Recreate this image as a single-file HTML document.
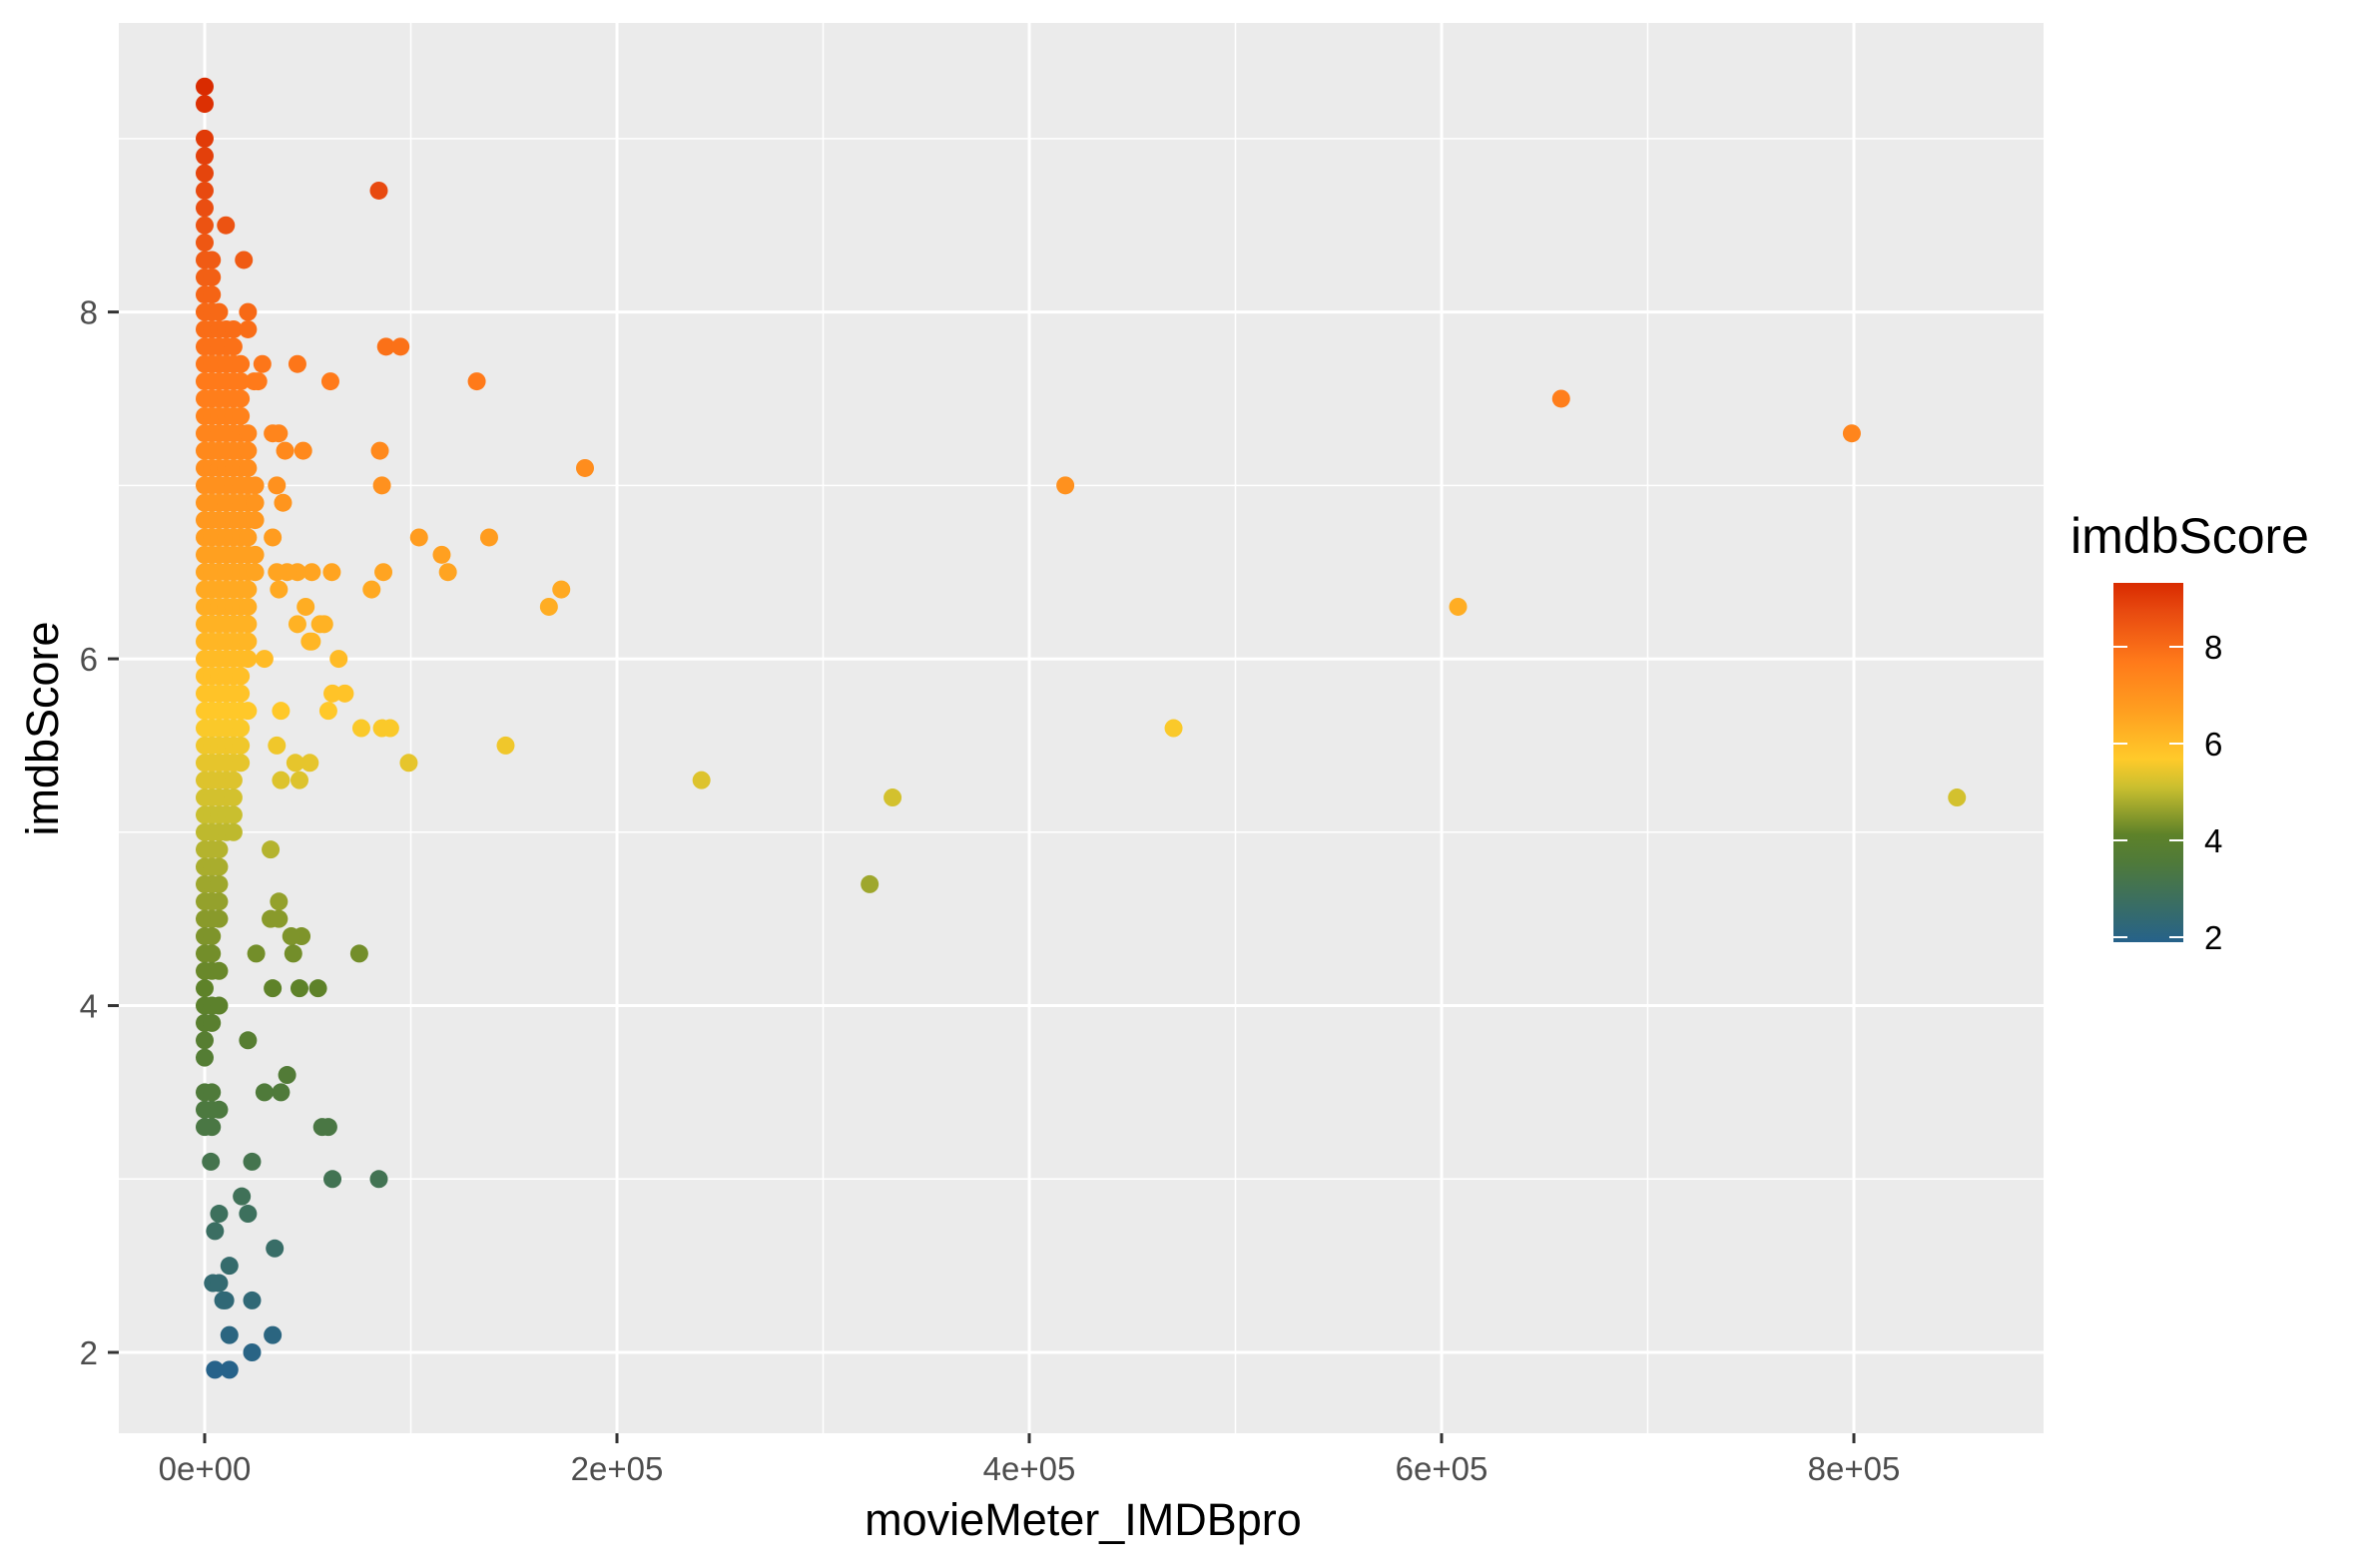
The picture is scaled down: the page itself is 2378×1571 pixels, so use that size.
<!DOCTYPE html>
<html><head><meta charset="utf-8"><style>
body{margin:0;background:#fff;}
svg{display:block;font-family:"Liberation Sans",sans-serif;}
</style></head><body>
<svg id="chart" width="2378" height="1571" viewBox="0 0 2378 1571">
<rect x="0" y="0" width="2378" height="1571" fill="#fff"/>
<rect x="119" y="23" width="1928" height="1413" fill="#ebebeb"/>
<g id="grid"></g>
<g id="points"></g>
<g id="axes"></g>
<text x="1085" y="1538" font-size="45" text-anchor="middle" fill="#000">movieMeter_IMDBpro</text>
<text transform="translate(58,730) rotate(-90)" font-size="45" text-anchor="middle" fill="#000">imdbScore</text>
<g>
<text x="2074" y="554" font-size="50" fill="#000">imdbScore</text>
<defs><linearGradient id="lg" x1="0" y1="1" x2="0" y2="0">
<stop offset="0" stop-color="#26628a"/><stop offset="0.22" stop-color="#4f7a3a"/><stop offset="0.3" stop-color="#5e8229"/><stop offset="0.43" stop-color="#c9bf2f"/><stop offset="0.51" stop-color="#ffca2a"/><stop offset="0.64" stop-color="#ffa020"/><stop offset="0.78" stop-color="#ff7a1a"/><stop offset="0.92" stop-color="#e84a10"/><stop offset="1" stop-color="#d92b00"/></linearGradient></defs>
<rect x="2117" y="584" width="70" height="360" fill="url(#lg)"/>
<g id="legendTicks"></g>
</g>
</svg>
<script>
const xTicks=[0,200000,400000,600000,800000];
const xTickLabels=["0e+00","2e+05","4e+05","6e+05","8e+05"];
const yTicks=[2,4,6,8];
const yTickLabels=["2","4","6","8"];
const legendTicks=[2,4,6,8];
// dense column: score levels and max x extent of the band at each level
const bandScores=[9.3,9.2,9.0,8.9,8.8,8.7,8.6,8.5,8.4,8.3,8.2,8.1,8.0,7.9,7.8,7.7,7.6,7.5,7.4,7.3,7.2,7.1,7.0,6.9,6.8,6.7,6.6,6.5,6.4,6.3,6.2,6.1,6.0,5.9,5.8,5.7,5.6,5.5,5.4,5.3,5.2,5.1,5.0,4.9,4.8,4.7,4.6,4.5,4.4,4.3,4.2,4.1,4.0,3.9,3.8,3.7,3.5,3.4,3.3];
const bandMax=[0,0,1000,1000,1000,1500,1500,2000,3000,6000,5000,5000,9000,14000,16000,20000,20000,18000,20000,22000,24000,24000,25000,26000,26000,24000,26000,26000,22000,24000,24000,22000,22000,20000,20000,22000,20000,18000,18000,16000,16000,14000,14000,10000,10000,10000,9000,8000,6000,6000,9000,3000,8000,4000,3000,3000,5000,8000,6000];
const scatterX=[84500,10300,19000,21000,21000,88000,95000,45000,28000,24000,61000,132000,26000,658000,799000,33000,36000,47800,85000,39000,184500,86000,417500,35000,38000,104000,138000,33000,115000,118000,86700,61700,52000,45000,40000,35000,173000,81000,36000,167000,608000,49000,58000,45000,51000,52000,56000,65000,29000,62000,68000,60000,37000,76000,86000,90000,470000,146000,35000,99000,44000,51000,241000,46000,37000,333700,850000,32000,322600,36000,32000,36000,47000,42000,75000,43000,25000,55000,46000,33000,40000,57000,60000,37000,29000,62000,84500,23000,34000,33000,23000,5000,7000,18000,21000,12000,4000,7000,9000,10000,23000,12000,5000,12000,3000,21000];
const scatterY=[8.7,8.5,8.3,8.0,7.9,7.8,7.8,7.7,7.7,7.6,7.6,7.6,7.6,7.5,7.3,7.3,7.3,7.2,7.2,7.2,7.1,7.0,7.0,7.0,6.9,6.7,6.7,6.7,6.6,6.5,6.5,6.5,6.5,6.5,6.5,6.5,6.4,6.4,6.4,6.3,6.3,6.3,6.2,6.2,6.1,6.1,6.2,6.0,6.0,5.8,5.8,5.7,5.7,5.6,5.6,5.6,5.6,5.5,5.5,5.4,5.4,5.4,5.3,5.3,5.3,5.2,5.2,4.9,4.7,4.6,4.5,4.5,4.4,4.4,4.3,4.3,4.3,4.1,4.1,4.1,3.6,3.3,3.3,3.5,3.5,3.0,3.0,3.1,2.6,2.1,2.0,2.7,2.8,2.9,2.8,2.5,2.4,2.4,2.3,2.3,2.3,2.1,1.9,1.9,3.1,3.8];

const NS="http://www.w3.org/2000/svg";
const X0=205, XS=(1857-205)/800000;
const Y8=312.6, YS=(1355-312.6)/6;
function sx(v){return X0+v*XS;}
function sy(v){return Y8+(8-v)*YS;}
function ly(v){return 648+(8-v)*48.5;}
const stops=[[1.9,[38,98,138]],[3.5,[79,122,58]],[4.1,[94,130,41]],[5.1,[201,191,47]],[5.65,[255,202,42]],[6.6,[255,160,32]],[7.6,[255,122,26]],[8.7,[232,74,16]],[9.3,[217,43,0]]];
function col(s){
  for(let i=0;i<stops.length-1;i++){
    const a=stops[i],b=stops[i+1];
    if(s<=b[0]){const t=Math.max(0,(s-a[0])/(b[0]-a[0]));
      const c=a[1].map((v,k)=>Math.round(v+(b[1][k]-v)*t));return `rgb(${c})`;}
  }
  return "rgb(217,43,0)";
}
function mk(tag,attrs,parent){const e=document.createElementNS(NS,tag);for(const k in attrs)e.setAttribute(k,attrs[k]);parent.appendChild(e);return e;}
const grid=document.getElementById('grid');
[100000,300000,500000,700000].forEach(v=>{const l=mk('line',{x1:sx(v),x2:sx(v),y1:23,y2:1436,stroke:'#fff','stroke-width':1.5},grid);

});
[3,5,7,9].forEach(v=>{const l=mk('line',{x1:119,x2:2047,y1:sy(v),y2:sy(v),stroke:'#fff','stroke-width':1.5},grid);

});
const axes=document.getElementById('axes');
xTicks.forEach((v,i)=>{const l=mk('line',{x1:sx(v),x2:sx(v),y1:23,y2:1436,stroke:'#fff','stroke-width':3},grid);


const t=mk('line',{x1:sx(v),x2:sx(v),y1:1436,y2:1446,stroke:'#333','stroke-width':3},axes);


const tx=mk('text',{x:sx(v),y:1483,'font-size':33,'text-anchor':'middle',fill:'#4d4d4d'},axes);tx.textContent=xTickLabels[i];

});
yTicks.forEach((v,i)=>{const l=mk('line',{x1:119,x2:2047,y1:sy(v),y2:sy(v),stroke:'#fff','stroke-width':3},grid);


const t=mk('line',{x1:108,x2:119,y1:sy(v),y2:sy(v),stroke:'#333','stroke-width':3},axes);


const tx=mk('text',{x:98,y:sy(v)+12,'font-size':33,'text-anchor':'end',fill:'#4d4d4d'},axes);tx.textContent=yTickLabels[i];

});
const pts=document.getElementById('points');
function dot(x,y){const c=mk('circle',{cx:sx(x),cy:sy(y),r:9,fill:col(y)},pts);

}
bandScores.forEach((s,i)=>{for(let x=0;x<=bandMax[i];x+=3500)dot(x,s);});
scatterX.forEach((x,i)=>dot(x,scatterY[i]));
const lt=document.getElementById('legendTicks');
legendTicks.forEach(v=>{
const a=mk('line',{x1:2117,x2:2131,y1:ly(v),y2:ly(v),stroke:'#fff','stroke-width':2},lt);


const b=mk('line',{x1:2173,x2:2187,y1:ly(v),y2:ly(v),stroke:'#fff','stroke-width':2},lt);


const t=mk('text',{x:2208,y:ly(v)+12,'font-size':33,fill:'#000'},lt);t.textContent=v;

});
</script>
</body></html>
